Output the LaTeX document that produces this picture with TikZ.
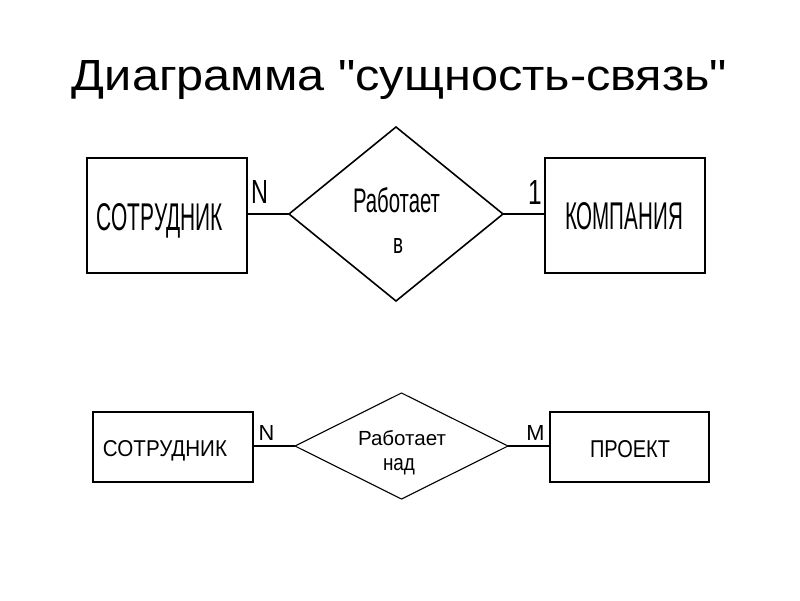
\documentclass[tikz,border=0pt]{standalone}
\usepackage{fontspec}
\setmainfont{Liberation Sans}
\newfontfamily\qfont{Liberation Sans}
\usetikzlibrary{shapes.geometric}
\tikzset{
  ent/.style={draw, rectangle, inner sep=0pt, outer sep=0pt},
  rel/.style={draw, diamond, inner sep=0pt, outer sep=0pt},
  lbl/.style={anchor=base, inner sep=0pt, outer sep=0pt},
  conn/.style={draw}
}
\newcommand{\fit}[3]{\resizebox{#1pt}{#2pt}{#3}}
\newcommand{\chr}[3]{\scalebox{#1}[1]{\resizebox{!}{#2pt}{#3}}}
\begin{document}
\begin{tikzpicture}[x=1pt,y=-1pt]
\useasboundingbox (0,0) rectangle (800,600);
\fill[white] (0,0) rectangle (800,600);
% title
\node[lbl] (title) at (399.5,90) {\fit{655}{30}{\qfont Диаграмма "сущность-связь"}};
% top row
\node[ent, line width=2pt, minimum width=160pt, minimum height=115pt] (e1) at (167,215.5) {};
\node[ent, line width=2pt, minimum width=160pt, minimum height=115pt] (e2) at (625,215.5) {};
\node[rel, line width=1.6pt, minimum width=214pt, minimum height=174pt] (r1) at (396,214) {};
\draw[line width=2pt] (r1.west) -- (r1.west -| e1.east);
\draw[line width=2pt] (r1.east) -- (r1.east -| e2.west);
\node[lbl] (t1) at (160,230) {\fit{126}{27}{СОТРУДНИК}};
\node[lbl] (t2) at (624,229) {\fit{118}{27}{КОМПАНИЯ}};
\node[lbl] (t3) at (396.5,212) {\fit{87}{25}{Работает}};
\node[lbl] (t4) at (398,253) {\fit{10}{15}{в}};
\node[lbl] (c1) at (259.5,203) {\chr{0.7}{23}{N}};
\node[lbl] (c2) at (535,204) {\chr{0.7}{24}{1}};
% bottom row
\node[ent, line width=1.3pt, minimum width=160pt, minimum height=70pt] (e3) at (173,447) {};
\node[ent, line width=1.3pt, minimum width=159pt, minimum height=70pt] (e4) at (629.5,447) {};
\node[rel, line width=1.1pt, minimum width=213pt, minimum height=106pt] (r2) at (401.5,446) {};
\draw[line width=1.3pt] (r2.west) -- (r2.west -| e3.east);
\draw[line width=1.3pt] (r2.east) -- (r2.east -| e4.west);
\node[lbl] (t5) at (165,456) {\fit{124}{16}{СОТРУДНИК}};
\node[lbl] (t6) at (630,457) {\fit{80}{17}{ПРОЕКТ}};
\node[lbl] (t7) at (402,445) {\fit{88}{15}{Работает}};
\node[lbl] (t8) at (399,470) {\fit{32}{12}{над}};
\node[lbl] (c3) at (266.5,440) {\chr{1}{15}{N}};
\node[lbl] (c4) at (535.5,440) {\chr{1}{15}{M}};
\end{tikzpicture}
\end{document}
